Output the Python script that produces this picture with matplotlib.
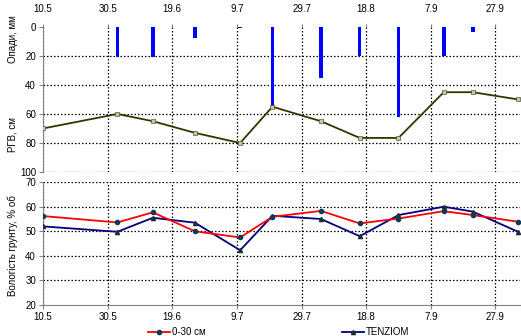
import matplotlib
matplotlib.use("Agg")
import matplotlib.pyplot as plt
import pandas as pd

plt.rcParams['font.family'] = ['Liberation Sans', 'DejaVu Sans']
plt.rcParams['font.size'] = 7

# Data
tick_dates = ["2011-05-10", "2011-05-30", "2011-06-19", "2011-07-09",
              "2011-07-29", "2011-08-18", "2011-09-07", "2011-09-27"]
tick_labels = ["10.5", "30.5", "19.6", "9.7", "29.7", "18.8", "7.9", "27.9"]

rain_dates = ["2011-06-02", "2011-06-13", "2011-06-26", "2011-07-10", "2011-07-20",
              "2011-08-04", "2011-08-16", "2011-08-28", "2011-09-11", "2011-09-20"]
rain_mm = [21, 21, 8, 1, 56, 35, 20, 62, 20, 3.5]

gwl_dates = ["2011-05-10", "2011-06-02", "2011-06-13", "2011-06-26", "2011-07-10",
             "2011-07-20", "2011-08-04", "2011-08-16", "2011-08-28", "2011-09-11",
             "2011-09-20", "2011-10-04"]
gwl_cm = [70, 60, 65, 73, 80, 55, 65, 76.5, 76.5, 45, 45, 50]

moist_dates = gwl_dates
moist_0_30 = [56.2, 53.6, 57.7, 50, 47.5, 55.9, 58.3, 53.2, 55.2, 58.2, 56.6, 53.9]
moist_tenziom = [52, 49.8, 55.5, 53.5, 42.3, 56.3, 55, 48, 56.6, 60, 58, 49.8]

tick_dates = pd.to_datetime(tick_dates)
rain_dates = pd.to_datetime(rain_dates)
gwl_dates = pd.to_datetime(gwl_dates)
moist_dates = pd.to_datetime(moist_dates)

xmin = pd.Timestamp("2011-05-10")
xmax = pd.Timestamp("2011-10-04 12:00")

fig = plt.figure(figsize=(5.21, 3.36), dpi=100)
ax1 = fig.add_axes([0.0825, 0.488, 0.915, 0.432])
ax2 = fig.add_axes([0.0825, 0.092, 0.915, 0.366])

grid_kw = dict(color='black', linestyle=(0, (1.2, 1.6)), linewidth=0.9)

# Top panel
ax1.bar(rain_dates, rain_mm, width=1.1, color='#0000ff', zorder=3)
ax1.plot(gwl_dates, gwl_cm, color='#333300', linewidth=1.3, marker='s',
         markersize=2.5, markerfacecolor='#c8c8a0', markeredgecolor='#555533',
         markeredgewidth=0.5, zorder=4)
ax1.set_ylim(100, 0)
ax1.set_yticks([0, 20, 40, 60, 80, 100])
ax1.set_xlim(xmin, xmax)
ax1.set_xticks(tick_dates)
ax1.set_xticklabels(tick_labels)
ax1.xaxis.tick_top()
ax1.grid(True, **grid_kw)
ax1.set_axisbelow(True)
for sp in ['top', 'right', 'bottom']:
    ax1.spines[sp].set_visible(False)
ax1.spines['left'].set_color('#808080')
ax1.tick_params(axis='x', length=2, pad=7, color='#808080')
ax1.tick_params(axis='y', length=3, pad=2, color='#808080')
gl = ax1.yaxis.get_gridlines()
gl[0].set_visible(False)

# Bottom panel
ax2.plot(moist_dates, moist_0_30, color='#ff0000', linewidth=1.3, marker='o',
         markersize=3, markerfacecolor='#0b3a5c', markeredgecolor='#0b3a5c',
         label='0-30 см', zorder=4)
ax2.plot(moist_dates, moist_tenziom, color='#000080', linewidth=1.3, marker='^',
         markersize=3, markerfacecolor='#1a3030', markeredgecolor='#1a3030',
         label='TENZIOM', zorder=3)
ax2.set_ylim(20, 70)
ax2.set_yticks([20, 30, 40, 50, 60, 70])
ax2.set_xlim(xmin, xmax)
ax2.set_xticks(tick_dates)
ax2.set_xticklabels(tick_labels)
ax2.grid(True, **grid_kw)
ax2.set_axisbelow(True)
for sp in ['top', 'right']:
    ax2.spines[sp].set_visible(False)
ax2.spines['left'].set_color('#808080')
ax2.spines['bottom'].set_color('#808080')
ax2.tick_params(axis='x', length=3, pad=2, color='#808080')
ax2.tick_params(axis='y', length=3, pad=2, color='#808080')
gl2 = ax2.yaxis.get_gridlines()
gl2[0].set_visible(False)

fig.text(0.024, 0.885, "Опади, мм", rotation=90, ha='center', va='center', fontsize=7)
fig.text(0.024, 0.60, "РГВ, см", rotation=90, ha='center', va='center', fontsize=7)
fig.text(0.024, 0.27, "Вологість грунту, % об", rotation=90, ha='center', va='center', fontsize=7)

fig.legend(loc='lower center', bbox_to_anchor=(0.535, -0.03), ncol=2, frameon=False,
           columnspacing=14, handlelength=2.3, handletextpad=0.2, fontsize=7)

fig.savefig("out.png", dpi=100)
